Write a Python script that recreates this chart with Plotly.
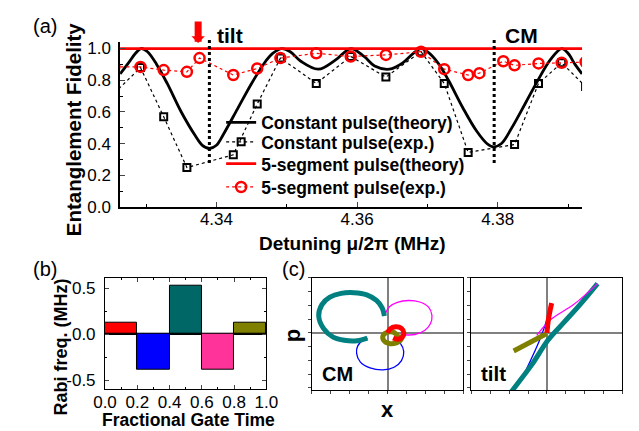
import plotly.graph_objects as go

FONT = "Arial, Liberation Sans, sans-serif"

# ---------------- Panel (a) data ----------------
det_theory = [4.3263, 4.3275, 4.3285, 4.3293, 4.3302, 4.3315, 4.333, 4.335, 4.337, 4.338, 4.339,
              4.340, 4.341, 4.343, 4.345, 4.347, 4.348, 4.3493, 4.3505, 4.352, 4.3545, 4.357,
              4.3591, 4.361, 4.3625, 4.3646, 4.3665, 4.368, 4.3691, 4.370, 4.3715, 4.373, 4.375,
              4.377, 4.3785, 4.3794, 4.3805, 4.382, 4.384, 4.3856, 4.3875, 4.3891, 4.390, 4.391, 4.392]
fid_const_theory = [0.84, 0.91, 0.97, 1.00, 0.98, 0.90, 0.78, 0.60, 0.45, 0.39, 0.37,
                    0.39, 0.46, 0.62, 0.78, 0.92, 0.97, 1.00, 0.98, 0.92, 0.87, 0.93,
                    1.00, 0.95, 0.89, 0.87, 0.91, 0.97, 1.00, 0.98, 0.91, 0.80, 0.63,
                    0.48, 0.40, 0.38, 0.40, 0.50, 0.66, 0.79, 0.93, 1.00, 0.97, 0.90, 0.84]

det_const_exp = [4.3255, 4.3292, 4.3325, 4.3358, 4.3424, 4.3458, 4.3491, 4.3542, 4.3591,
                 4.3641, 4.3691, 4.3724, 4.3758, 4.3824, 4.3858, 4.3891, 4.3925]
fid_const_exp = [0.72, 0.88, 0.57, 0.25, 0.33, 0.65, 0.94, 0.78, 0.95,
                 0.82, 0.98, 0.78, 0.345, 0.395, 0.78, 0.91, 0.76]

det_seg_theory = [4.325, 4.393]
fid_seg_theory = [1.0, 1.0]

det_seg_exp = [4.3255, 4.3292, 4.3325, 4.3358, 4.3376, 4.3424, 4.3458, 4.3491, 4.3542, 4.3591,
               4.3641, 4.3691, 4.3724, 4.3758, 4.3774, 4.3808, 4.3824, 4.3858, 4.3891, 4.3925]
fid_seg_exp = [0.885, 0.884, 0.864, 0.853, 0.94, 0.833, 0.874, 0.94, 0.97, 0.95,
               0.96, 0.98, 0.87, 0.833, 0.845, 0.92, 0.894, 0.906, 0.91, 0.915]

mode_names = ["tilt", "CM"]
mode_detunings = [4.339, 4.3795]
arrow_detuning = 4.3374

fid_ticks = [0.0, 0.2, 0.4, 0.6, 0.8, 1.0]
det_ticks = [4.34, 4.36, 4.38]

# ---------------- Panel (b) data ----------------
seg_time = [0.1, 0.3, 0.5, 0.7, 0.9]
seg_rabi = [0.13, -0.387, 0.528, -0.387, 0.13]
seg_colors = ["#FF0000", "#0000FF", "#006666", "#FF3399", "#808000"]
rabi_tickvals = [-0.5, 0.0, 0.5]
rabi_ticktext = ["-0.5", "0.0", "0.5"]
time_ticks = [0.0, 0.2, 0.4, 0.6, 0.8, 1.0]

# ---------------- Panel (c) data : CM mode ----------------
cm_red_x = [0.0, 0.12, 0.42, 0.73, 0.86, 0.76, 0.51, 0.29]
cm_red_y = [0.0, 0.28, 0.45, 0.33, -0.02, -0.35, -0.47, -0.38]
cm_blue_x = [0.29, 0.68, 0.85, 0.73, 0.34, -0.25, -0.93, -1.44, -1.64, -1.58, -1.31, -1.07]
cm_blue_y = [-0.40, -0.78, -1.37, -2.03, -2.51, -2.70, -2.55, -2.13, -1.49, -0.95, -0.54, -0.38]
cm_teal_x = [-1.07, -1.61, -2.29, -2.88, -3.39, -3.64, -3.47, -3.05, -2.46, -1.78, -1.10, -0.59, -0.29, -0.17]
cm_teal_y = [-0.38, -0.57, -0.54, -0.31, 0.33, 1.23, 2.06, 2.60, 2.88, 2.93, 2.77, 2.36, 1.82, 1.23]
cm_mag_x = [-0.17, 0.08, 0.51, 1.10, 1.69, 2.15, 2.34, 2.25, 1.95, 1.44, 0.93, 0.68]
cm_mag_y = [1.23, 1.89, 2.22, 2.36, 2.25, 1.89, 1.28, 0.64, 0.17, -0.12, -0.14, -0.07]
cm_olive_x = [0.68, 0.71, 0.46, 0.08, -0.20, -0.24, 0.0, 0.29, 0.51, 0.40]
cm_olive_y = [-0.12, -0.47, -0.73, -0.78, -0.57, -0.19, 0.05, 0.05, -0.19, -0.33]

# ---------------- Panel (c) data : tilt mode ----------------
tilt_red_x = [0.0, 0.08, 0.25]
tilt_red_y = [0.0, 0.99, 2.17]
tilt_blue_x = [0.25, -0.29, -1.22]
tilt_blue_y = [2.17, -0.19, -3.03]
tilt_teal_x = [-2.0, -1.81, -0.80, 0.05, 0.90, 1.75, 2.68]
tilt_teal_y = [-4.5, -4.16, -2.32, -0.54, 0.76, 2.06, 3.59]
tilt_mag_x = [2.68, 1.41, 0.22, -0.54]
tilt_mag_y = [3.59, 2.06, 0.99, -0.19]
tilt_olive_x = [-1.76, -0.03]
tilt_olive_y = [-1.32, -0.07]

W, H = 639, 431

def px(x0, x1):
    return [x0 / W, x1 / W]

def py(top, bottom):
    return [1 - bottom / H, 1 - top / H]

def xp(x):
    return x / W

def yp(y):
    return 1 - y / H

fig = go.Figure()

# ---- Panel (a) traces (each in its own legend row) ----
fig.add_trace(go.Scatter(x=det_theory, y=fid_const_theory, mode="lines", line_shape="spline",
                         line=dict(color="black", width=2.8), name="Constant pulse(theory)",
                         xaxis="x", yaxis="y", legend="legend"))
fig.add_trace(go.Scatter(x=det_const_exp, y=fid_const_exp, mode="lines+markers",
                         line=dict(color="black", width=1.2, dash="dot"),
                         marker=dict(symbol="square-open", size=7, color="black", line=dict(width=2)),
                         name="Constant pulse(exp.)", xaxis="x", yaxis="y", legend="legend2"))
fig.add_trace(go.Scatter(x=det_seg_theory, y=fid_seg_theory, mode="lines",
                         line=dict(color="#FF0000", width=2.8), name="5-segment pulse(theory)",
                         xaxis="x", yaxis="y", legend="legend3"))
fig.add_trace(go.Scatter(x=det_seg_exp, y=fid_seg_exp, mode="lines+markers",
                         line=dict(color="#FF0000", width=1.2, dash="dot"),
                         marker=dict(symbol="circle-open", size=10, color="#FF0000", line=dict(width=2.5)),
                         name="5-segment pulse(exp.)", xaxis="x", yaxis="y", legend="legend4"))

# ---- Panel (b) bars ----
fig.add_trace(go.Bar(x=seg_time, y=seg_rabi, width=0.2, marker=dict(color=seg_colors,
                     line=dict(color="black", width=1)), showlegend=False, xaxis="x2", yaxis="y2"))

# ---- Panel (c) traces ----
def traj(xs, ys, color, width, ax):
    fig.add_trace(go.Scatter(x=xs, y=ys, mode="lines", line_shape="spline",
                             line=dict(color=color, width=width), showlegend=False,
                             xaxis="x" + ax, yaxis="y" + ax))

traj(cm_blue_x, cm_blue_y, "#0000FF", 1.3, "3")
traj(cm_mag_x, cm_mag_y, "#FF00FF", 1.3, "3")
traj(cm_teal_x, cm_teal_y, "#008080", 5, "3")
traj(cm_olive_x, cm_olive_y, "#808000", 5, "3")
traj(cm_red_x, cm_red_y, "#FF0000", 5, "3")

traj(tilt_blue_x, tilt_blue_y, "#0000FF", 1.3, "4")
traj(tilt_teal_x, tilt_teal_y, "#008080", 5, "4")
traj(tilt_mag_x, tilt_mag_y, "#FF00FF", 1.3, "4")
traj(tilt_olive_x, tilt_olive_y, "#808000", 5, "4")
traj(tilt_red_x, tilt_red_y, "#FF0000", 5, "4")

tickfont_a = dict(family=FONT, size=17, color="black")
tickfont_b = dict(family=FONT, size=17, color="black")

legfont = dict(family=FONT, size=17.5, color="black", weight="bold")
leg_rows = [121.5, 141.5, 164.0, 188.0]
leg_x = 262 - 53
legends = {}
for i, row in enumerate(leg_rows):
    key = "legend" if i == 0 else "legend%d" % (i + 1)
    legends[key] = dict(x=xp(leg_x), y=yp(row - 25), xanchor="left", yanchor="top",
                        bgcolor="rgba(0,0,0,0)", font=legfont, itemwidth=30)

axis_c = dict(range=[-4, 4], dtick=1, showticklabels=False, ticks="outside", ticklen=3,
              showline=True, linecolor="black", linewidth=1, mirror=True, showgrid=False,
              zeroline=True, zerolinecolor="#808080", zerolinewidth=1.5)
axis_cy = dict(axis_c, range=[-4.16, 4.0])

fig.update_layout(
    width=W, height=H, margin=dict(l=0, r=0, t=0, b=0),
    plot_bgcolor="white", paper_bgcolor="white", bargap=0,
    font=dict(family=FONT, color="black"),
    xaxis=dict(domain=px(104, 584), range=[4.3263, 4.392], tickvals=det_ticks, tickformat=".2f",
               ticks="inside", ticklen=5, tickwidth=1, showline=True, linecolor="black", linewidth=1.5,
               minor=dict(dtick=0.01, tick0=4.33, ticks="inside", ticklen=3, tickcolor="black"),
               ticklabelstandoff=-4,
               showgrid=False, zeroline=False, tickfont=tickfont_a, anchor="y"),
    yaxis=dict(domain=py(202.3 - 1.04 * 163.6, 202.3), range=[0, 1.04], tickvals=fid_ticks, tickformat=".1f",
               ticks="inside", ticklen=5, tickwidth=1, showline=True, linecolor="black", linewidth=1.5,
               minor=dict(dtick=0.1, ticks="inside", ticklen=3, tickcolor="black"),
               ticklabelstandoff=4,
               showgrid=False, zeroline=False, tickfont=tickfont_a, anchor="x"),
    xaxis2=dict(domain=px(88.3, 256), range=[0, 1], tickvals=time_ticks, tickformat=".1f",
                ticks="inside", ticklen=4, showline=True, linecolor="black", linewidth=1, mirror="ticks",
                minor=dict(dtick=0.1, ticks="inside", ticklen=2, tickcolor="black"),
                ticklabelstandoff=-3,
                showgrid=False, zeroline=False, tickfont=tickfont_b, anchor="y2"),
    yaxis2=dict(domain=py(275, 390), range=[-0.6, 0.615], tickvals=rabi_tickvals, ticktext=rabi_ticktext,
                ticks="inside", ticklen=4, showline=True, linecolor="black", linewidth=1, mirror="ticks",
                minor=dict(dtick=0.25, ticks="inside", ticklen=2, tickcolor="black"),
                ticklabelstandoff=5,
                showgrid=False, zeroline=True, zerolinecolor="black", zerolinewidth=1.5,
                tickfont=tickfont_b, anchor="x2"),
    xaxis3=dict(axis_c, domain=px(303.3, 460.7), anchor="y3"),
    yaxis3=dict(axis_cy, domain=py(275.3, 390.7), anchor="x3"),
    xaxis4=dict(axis_c, domain=px(469, 626), anchor="y4"),
    yaxis4=dict(axis_cy, domain=py(275.3, 390.7), anchor="x4"),
    **legends,
)

# axis titles placed as in the reference
titles = [
    ("Entanglement Fidelity", 55.5, 121.5, 20.5, -90),
    ("Detuning μ/2π (MHz)", 345, 239.5, 19, 0),
    ("Rabi freq. (MHz)", 42.5, 346, 18, -90),
    ("Fractional Gate Time", 175.5, 421.5, 17.5, 0),
    ("p", 284, 335, 22, -90),
    ("x", 381.7, 411, 22, 0),
]
for txt, xx, yy, fs, ang in titles:
    fig.add_annotation(x=xp(xx), y=yp(yy), xref="paper", yref="paper", text="<b>%s</b>" % txt,
                       showarrow=False, xanchor="center", yanchor="middle", textangle=ang,
                       font=dict(family=FONT, size=fs, color="black"))

# dotted markers for tilt / CM modes
for name, d, sh in zip(mode_names, mode_detunings, [6, 9]):
    fig.add_shape(type="line", xref="x", yref="paper", x0=d, x1=d, y0=yp(156.7), y1=yp(26.7),
                  line=dict(color="black", width=3, dash="dot"))
    fig.add_annotation(x=d, y=yp(25), xref="x", yref="paper", text="<b>%s</b>" % name, showarrow=False,
                       xanchor="left", yanchor="middle", xshift=sh,
                       font=dict(family=FONT, size=21, color="black"))

# red arrow
fig.add_annotation(x=arrow_detuning, y=1.035, xref="x", yref="y", ax=0, ay=-23, text="",
                   showarrow=True, arrowhead=1, arrowsize=0.32, arrowwidth=7, arrowcolor="#FF0000")

# panel letters
for txt, xx, yy in [("(a)", 26, 15.5), ("(b)", 26, 266), ("(c)", 284.5, 266)]:
    fig.add_annotation(x=xp(xx), y=yp(yy), xref="paper", yref="paper", text=txt, showarrow=False,
                       xanchor="center", yanchor="middle", font=dict(family=FONT, size=20, color="black"))

# mode labels in panel (c)
fig.add_annotation(x=xp(311.7), y=yp(374.5), xref="paper", yref="paper", text="<b>CM</b>",
                   showarrow=False, xanchor="left", yanchor="middle",
                   font=dict(family=FONT, size=20, color="black"))
fig.add_annotation(x=xp(476.7), y=yp(373.5), xref="paper", yref="paper", text="<b>tilt</b>",
                   showarrow=False, xanchor="left", yanchor="middle",
                   font=dict(family=FONT, size=20.5, color="black"))

fig.write_html("out.html")
